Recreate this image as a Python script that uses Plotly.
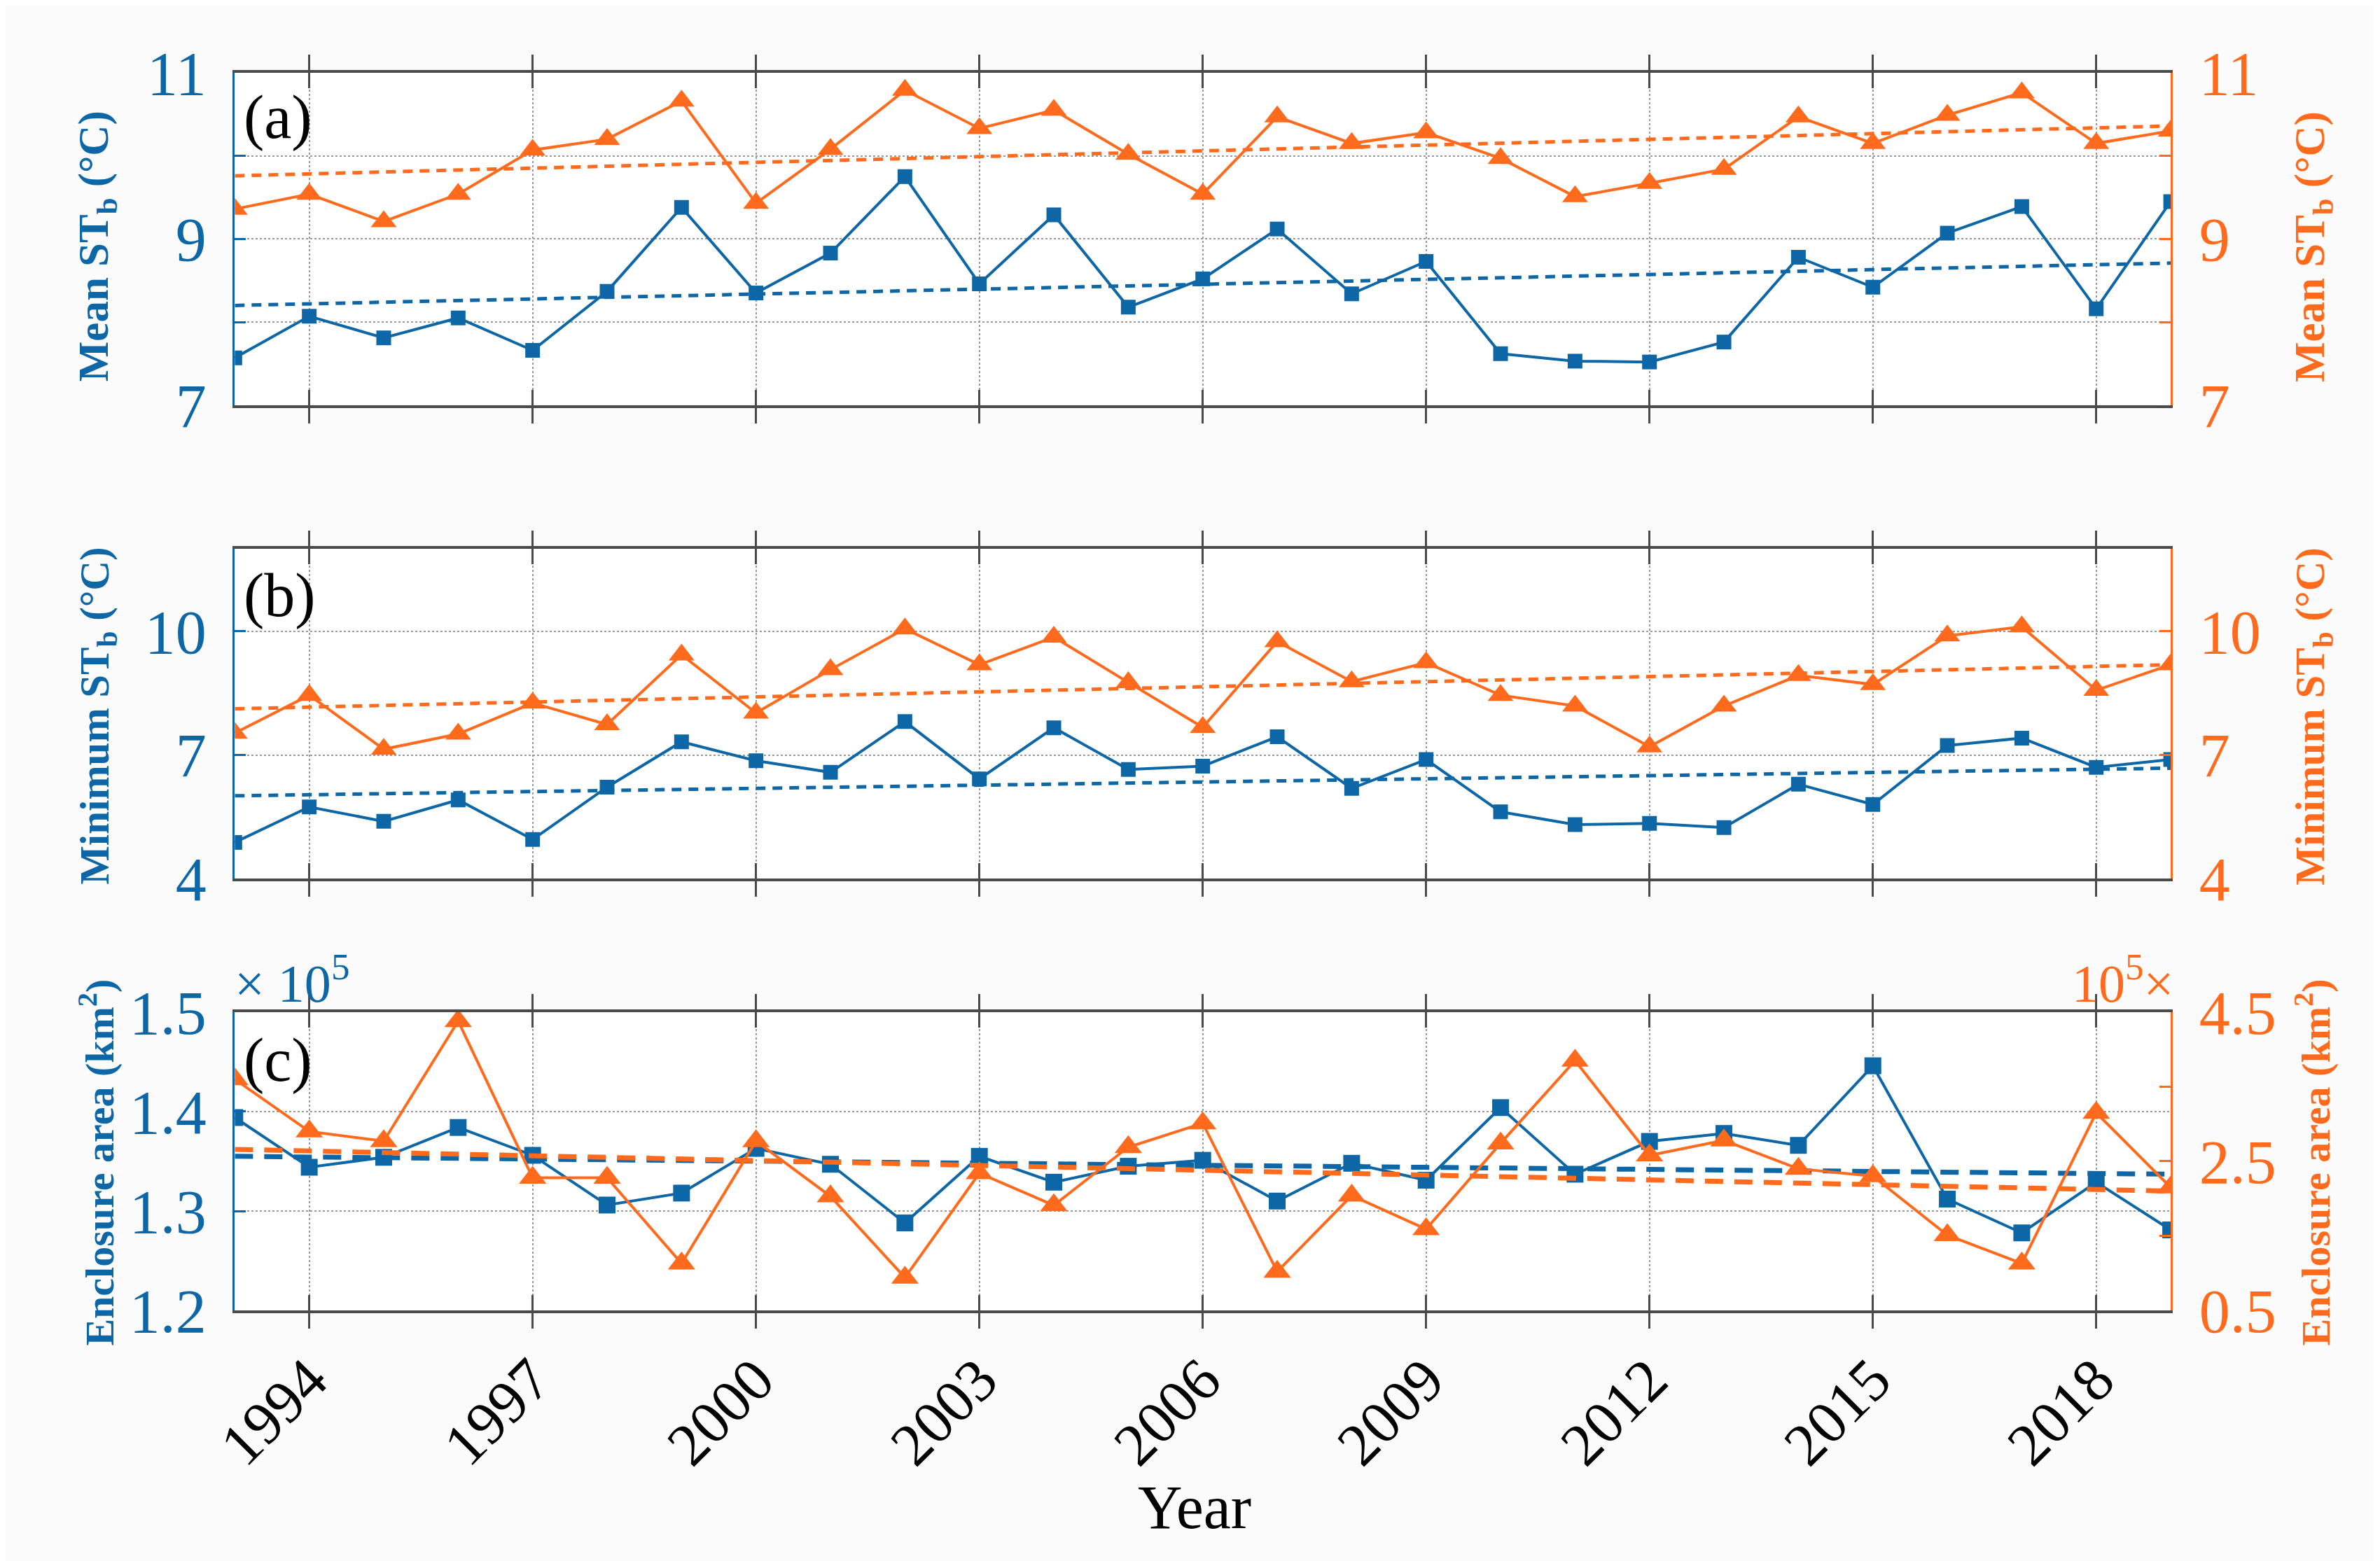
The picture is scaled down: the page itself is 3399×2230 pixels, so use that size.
import plotly.graph_objects as go
from plotly.subplots import make_subplots

# ---------------- data ----------------
years = list(range(1993, 2020))
trend_years = [1993, 2019]

mean_blue = [7.57, 8.07, 7.81, 8.05, 7.66, 8.37, 9.38, 8.35, 8.83, 9.75, 8.46, 9.29, 8.18,
             8.52, 9.12, 8.34, 8.73, 7.62, 7.53, 7.52, 7.76, 8.78, 8.42, 9.07, 9.39, 8.16, 9.45]
mean_orange = [9.36, 9.54, 9.21, 9.54, 10.07, 10.20, 10.66, 9.43, 10.08, 10.79, 10.33, 10.55, 10.02,
               9.54, 10.47, 10.15, 10.28, 9.97, 9.51, 9.67, 9.84, 10.47, 10.15, 10.49, 10.76, 10.15, 10.30]
mean_blue_trend = [8.20, 8.71]
mean_orange_trend = [9.76, 10.36]

min_blue = [4.88, 5.74, 5.39, 5.91, 4.95, 6.22, 7.32, 6.86, 6.58, 7.81, 6.42, 7.66, 6.65,
            6.73, 7.44, 6.19, 6.89, 5.62, 5.31, 5.34, 5.24, 6.29, 5.80, 7.23, 7.41, 6.70, 6.89]
min_orange = [7.53, 8.45, 7.14, 7.51, 8.26, 7.74, 9.43, 8.02, 9.07, 10.06, 9.19, 9.86, 8.76,
              7.67, 9.75, 8.78, 9.24, 8.45, 8.19, 7.20, 8.19, 8.93, 8.71, 9.89, 10.11, 8.57, 9.19]
min_blue_trend = [6.01, 6.68]
min_orange_trend = [8.12, 9.19]

# enclosure area, units of 1e5 km^2
area_blue = [1.394, 1.344, 1.354, 1.384, 1.356, 1.306, 1.318, 1.363, 1.347, 1.288, 1.355, 1.329, 1.345,
             1.351, 1.310, 1.348, 1.331, 1.404, 1.337, 1.370, 1.378, 1.366, 1.446, 1.312, 1.278, 1.329, 1.281]
area_orange = [3.60, 2.90, 2.77, 4.38, 2.28, 2.28, 1.13, 2.77, 2.03, 0.94, 2.34, 1.91, 2.69,
               3.01, 1.02, 2.04, 1.59, 2.74, 3.85, 2.58, 2.78, 2.40, 2.30, 1.51, 1.13, 3.15, 2.15]
area_blue_trend = [1.355, 1.337]
area_orange_trend = [2.66, 2.10]

year_ticks = [1994, 1997, 2000, 2003, 2006, 2009, 2012, 2015, 2018]
a_ticks = [7, 9, 11]
a_minor = [8, 10]
b_ticks = [4, 7, 10]
c_left_ticks = [1.2, 1.3, 1.4, 1.5]
c_right_ticks = [0.5, 2.5, 4.5]
c_right_minor = [1.5, 3.5]

# ---------------- style ----------------
BLUE = "#0d66a5"
ORANGE = "#ff6a1c"
AXC = "#4a4a4a"
GRID = "#9a9a9a"
FONT = "Liberation Serif"
W, H = 3399, 2230

fig = make_subplots(rows=3, cols=1, specs=[[{"secondary_y": True}]] * 3)

panels = [
    (mean_blue, mean_orange, mean_blue_trend, mean_orange_trend, 1),
    (min_blue, min_orange, min_blue_trend, min_orange_trend, 2),
    (area_blue, area_orange, area_blue_trend, area_orange_trend, 3),
]
for b, o, bt, ot, r in panels:
    big = (r == 3)
    fig.add_trace(go.Scatter(x=years, y=b, mode="lines+markers",
                             line=dict(color=BLUE, width=4),
                             marker=dict(symbol="square", size=24 if big else 21, color=BLUE),
                             showlegend=False), row=r, col=1, secondary_y=False)
    fig.add_trace(go.Scatter(x=trend_years, y=bt, mode="lines",
                             line=dict(color=BLUE, width=7 if big else 5,
                                       dash="26px,16px" if big else "14px,10px"),
                             showlegend=False), row=r, col=1, secondary_y=False)
    fig.add_trace(go.Scatter(x=years, y=o, mode="lines+markers",
                             line=dict(color=ORANGE, width=4),
                             marker=dict(symbol="triangle-up", size=34 if big else 32, color=ORANGE),
                             showlegend=False), row=r, col=1, secondary_y=True)
    fig.add_trace(go.Scatter(x=trend_years, y=ot, mode="lines",
                             line=dict(color=ORANGE, width=7 if big else 5,
                                       dash="26px,16px" if big else "14px,10px"),
                             showlegend=False), row=r, col=1, secondary_y=True)

x0, x1 = 0.0963, 0.9097
ydomains = {1: [0.744, 0.957], 2: [0.4407, 0.652], 3: [0.1641, 0.3552]}

for r in (1, 2, 3):
    fig.update_xaxes(row=r, col=1, domain=[x0, x1], range=[1993, 2019],
                     tickvals=year_ticks, showticklabels=(r == 3), tickangle=-45,
                     tickfont=dict(family=FONT, size=86, color="black"),
                     showline=True, linecolor=AXC, linewidth=4, mirror="allticks",
                     ticks="inside", ticklen=22, tickwidth=3, tickcolor=AXC,
                     ticklabelstandoff=10,
                     showgrid=True, gridcolor=GRID, griddash="dot", gridwidth=2,
                     zeroline=False, automargin=False)


def yaxis(r, secondary, rng, tv, tt, minor_vals, color):
    minor = None
    if minor_vals:
        minor = dict(tickvals=minor_vals, ticks="inside", ticklen=16, tickwidth=3, tickcolor=color,
                     showgrid=not secondary, gridcolor=GRID, griddash="dot", gridwidth=2)
    fig.update_yaxes(row=r, col=1, secondary_y=secondary, domain=ydomains[r], range=rng,
                     tickvals=tv, ticktext=tt,
                     tickfont=dict(family=FONT, size=88, color=color),
                     showline=True, linecolor=color, linewidth=3, ticks="inside", ticklen=16,
                     tickwidth=3, tickcolor=color, ticklabelstandoff=20,
                     showgrid=not secondary, gridcolor=GRID, griddash="dot", gridwidth=2,
                     zeroline=False, automargin=False, minor=minor)


def fmt(vals, nd=0):
    return [f"{v:.{nd}f}" for v in vals]


yaxis(1, False, [7, 11], a_ticks, fmt(a_ticks), a_minor, BLUE)
yaxis(1, True, [7, 11], a_ticks, fmt(a_ticks), a_minor, ORANGE)
yaxis(2, False, [4, 12], b_ticks, fmt(b_ticks), None, BLUE)
yaxis(2, True, [4, 12], b_ticks, fmt(b_ticks), None, ORANGE)
yaxis(3, False, [1.2, 1.5], c_left_ticks, fmt(c_left_ticks, 1), None, BLUE)
yaxis(3, True, [0.5, 4.5], c_right_ticks, fmt(c_right_ticks, 1), c_right_minor, ORANGE)

ann = []
titles = [("Mean ST<sub>b</sub> (°C)", 0.8457, 61), ("Minimum ST<sub>b</sub> (°C)", 0.545, 59),
          ("Enclosure area (km<sup>2</sup>)", 0.259, 58)]
for t, yy, fs in titles:
    ann.append(dict(text="<b>" + t + "</b>", x=0.0383, y=yy, xref="paper", yref="paper",
                    textangle=-90, showarrow=False, xanchor="center", yanchor="middle",
                    font=dict(family=FONT, size=fs, color=BLUE)))
    ann.append(dict(text="<b>" + t + "</b>", x=0.9694, y=yy, xref="paper", yref="paper",
                    textangle=-90, showarrow=False, xanchor="center", yanchor="middle",
                    font=dict(family=FONT, size=fs, color=ORANGE)))
for lab, yy in [("(a)", 0.951), ("(b)", 0.645), ("(c)", 0.347)]:
    ann.append(dict(text=lab, x=0.0995, y=yy, xref="paper", yref="paper", showarrow=False,
                    xanchor="left", yanchor="top", font=dict(family=FONT, size=88, color="black")))
ann.append(dict(text="× 10<sup>5</sup>", x=0.0955, y=0.354, xref="paper", yref="paper",
                showarrow=False, xanchor="left", yanchor="bottom",
                font=dict(family=FONT, size=76, color=BLUE)))
ann.append(dict(text="10<sup>5</sup>×", x=0.9115, y=0.354, xref="paper", yref="paper",
                showarrow=False, xanchor="right", yanchor="bottom",
                font=dict(family=FONT, size=76, color=ORANGE)))
ann.append(dict(text="Year", x=0.4997, y=0.038, xref="paper", yref="paper", showarrow=False,
                xanchor="center", yanchor="middle", font=dict(family=FONT, size=88, color="black")))

fig.update_layout(width=W, height=H, margin=dict(l=0, r=0, t=0, b=0, autoexpand=False),
                  paper_bgcolor="#fbfbfb", plot_bgcolor="white",
                  font=dict(family=FONT), annotations=ann, showlegend=False)

fig.write_html("out.html")
